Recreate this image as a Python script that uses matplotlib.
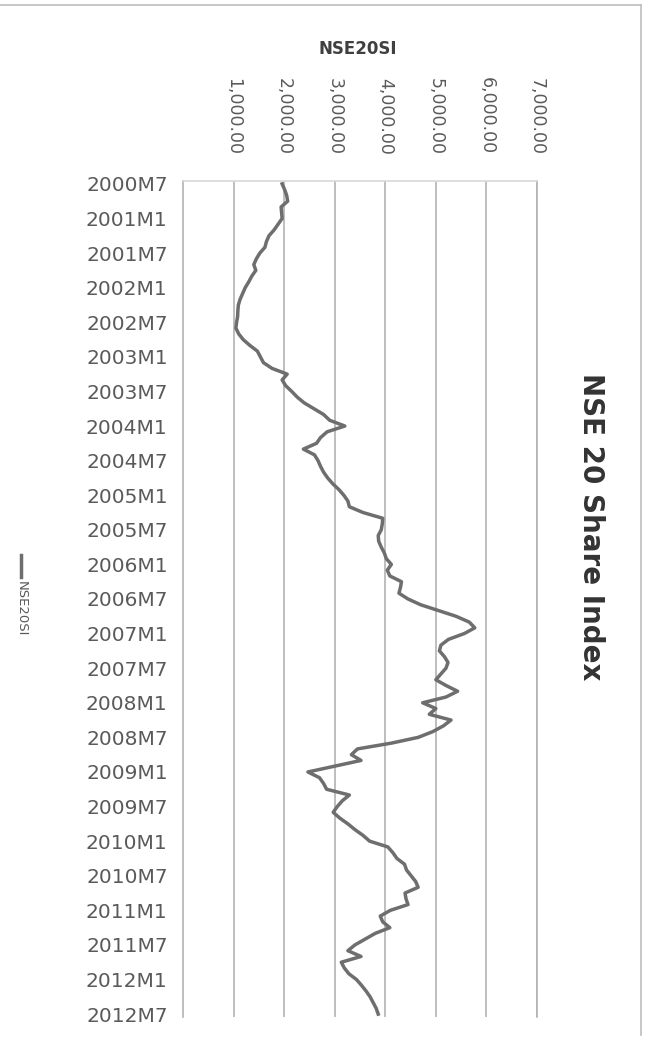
import numpy as np
import matplotlib.pyplot as plt
from matplotlib.lines import Line2D

# NSE 20 Share Index, monthly, 2000M7 .. 2012M7
nse20si = [
    1960, 2010, 2050, 2070, 1940, 1950, 1960, 1880, 1800, 1700, 1650, 1620,
    1520, 1450, 1400, 1440, 1360, 1300, 1230, 1180, 1130, 1095, 1085, 1080,
    1060, 1046, 1100, 1190, 1320, 1470, 1530, 1590, 1760, 2060, 1960, 2030,
    2150, 2260, 2400, 2590, 2780, 2900, 3200, 2850, 2720, 2640, 2380, 2600,
    2670, 2720, 2780, 2860, 2960, 3080, 3180, 3260, 3290, 3560, 3950, 3940,
    3920, 3860, 3870, 3920, 3980, 4020, 4120, 4040, 4090, 4320, 4300, 4270,
    4450, 4700, 5050, 5400, 5660, 5770, 5560, 5250, 5100, 5070, 5170, 5240,
    5200, 5100, 5000, 5200, 5430, 5200, 4740, 5000, 4870, 5300, 5150, 4940,
    4650, 4120, 3450, 3330, 3520, 3000, 2470, 2700, 2780, 2840, 3290, 3150,
    3050, 2970, 3100, 3260, 3400, 3560, 3690, 4050, 4150, 4230, 4380, 4420,
    4510, 4600, 4650, 4390, 4410, 4450, 4100, 3900, 3950, 4090, 3800, 3600,
    3400, 3260, 3520, 3130, 3190, 3280, 3430, 3530, 3620, 3700, 3760, 3820,
    3860,
]

cat_labels = [
    '2000M7', '2001M1', '2001M7', '2002M1', '2002M7', '2003M1', '2003M7',
    '2004M1', '2004M7', '2005M1', '2005M7', '2006M1', '2006M7', '2007M1',
    '2007M7', '2008M1', '2008M7', '2009M1', '2009M7', '2010M1', '2010M7',
    '2011M1', '2011M7', '2012M1', '2012M7',
]
value_ticks = [1000, 2000, 3000, 4000, 5000, 6000, 7000]

grid_col = '#b3b3b3'
text_col = '#5a5a5a'
line_col = '#6e6e6e'

fig = plt.figure(figsize=(6.47, 10.42), dpi=100)
ax = fig.add_axes([183 / 647, 25 / 1042, 354 / 647, 836 / 1042])

n = len(nse20si)
idx = np.arange(n)
ax.plot(nse20si, idx, color=line_col, lw=2.5, solid_joinstyle='round')

ax.set_xlim(0, 7000)
ax.set_ylim(n - 0.5, -0.5)

ax.set_xticks(value_ticks)
ax.set_xticklabels(['{:,.2f}'.format(v) for v in value_ticks], rotation=-90,
                   fontsize=12.5, color=text_col)
ax.xaxis.tick_top()
ax.tick_params(axis='x', length=0, pad=19)
ax.grid(axis='x', color=grid_col, lw=1.2)

ax.set_yticks(idx[::6])
ax.set_yticklabels(cat_labels, fontsize=14.5, color=text_col)
ax.tick_params(axis='y', length=0, pad=11)

ax.spines['bottom'].set_visible(False)
ax.spines['left'].set_color(grid_col)
ax.spines['right'].set_color(grid_col)
ax.spines['top'].set_color('#d8d8d8')
for s in ['left', 'right', 'top']:
    ax.spines[s].set_linewidth(1.2)

# axis title (value axis, now on top)
fig.text(358 / 647, 1 - 49 / 1042, 'NSE20SI', ha='center', va='center',
         fontsize=12, fontweight='bold', color='#404040')

# chart title, rotated with the page
fig.text(591 / 647, 1 - 527 / 1042, 'NSE 20 Share Index', rotation=-90,
         ha='center', va='center', fontsize=20, fontweight='bold', color='#333333')

# legend
fig.add_artist(Line2D([21 / 647, 21 / 647], [1 - 555 / 1042, 1 - 577 / 1042],
                      color=line_col, lw=2.5))
fig.text(21 / 647, 1 - 581 / 1042, 'NSE20SI', rotation=-90, ha='center', va='top',
         fontsize=9.5, color=text_col)

# page border from the scan
fig.add_artist(Line2D([0, 641 / 647], [1 - 5 / 1042, 1 - 5 / 1042], color='#bdbdbd', lw=1.2))
fig.add_artist(Line2D([641 / 647, 641 / 647], [1 - 5 / 1042, 1 - 1035 / 1042],
                      color='#bdbdbd', lw=1.2))

fig.savefig('out.png', dpi=100)
